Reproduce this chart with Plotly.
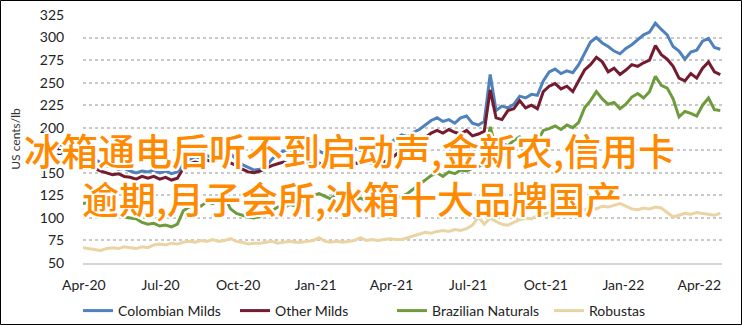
import pandas as pd
import plotly.graph_objects as go

# Weekly ICO group indicator prices, US cents/lb
dates = pd.date_range("2020-03-31", periods=109, freq="7D")

colombian_milds = [
    166, 168, 165, 161, 158, 156, 154, 155, 152, 150,
    152, 151, 153, 150, 152, 149, 151, 160, 165, 168,
    166, 169, 167, 170, 168, 171, 165, 159, 156, 153,
    154, 157, 165, 171, 174, 176, 173, 177, 175, 172,
    174, 171, 170, 172, 170, 174, 177, 175, 178, 176,
    180, 178, 182, 188, 192, 190, 195, 198, 203, 208,
    211, 207, 209, 205, 211, 213, 205, 203, 207, 259,
    219, 224, 222, 226, 235, 233, 237, 236, 252, 262,
    265, 260, 263, 261, 270, 282, 295, 300, 294, 290,
    285, 282, 288, 292, 298, 303, 306, 316, 309, 303,
    290, 285, 276, 284, 286, 296, 299, 289, 287,
]

other_milds = [
    157, 158, 155, 152, 150, 148, 149, 146, 145, 143,
    146, 144, 146, 143, 145, 142, 144, 155, 160, 162,
    160, 164, 162, 165, 163, 161, 158, 154, 151, 150,
    152, 155, 158, 160, 162, 160, 163, 161, 162, 159,
    161, 157, 158, 156, 159, 158, 161, 160, 162, 161,
    163, 162, 165, 170, 175, 178, 183, 187, 189, 194,
    197, 194, 198, 195, 193, 197, 191, 193, 196, 242,
    211, 209, 219, 221, 230, 222, 225, 221, 240, 246,
    249, 243, 246, 240, 252, 264, 270, 278, 273, 262,
    266, 259, 264, 270, 268, 272, 275, 291, 281, 276,
    268, 255, 252, 260, 255, 266, 273, 262, 259,
]

brazilian_naturals = [
    116, 117, 114, 108, 104, 102, 104, 101, 100, 99,
    95, 93, 94, 91, 92, 90, 93, 108, 112, 115,
    113, 118, 116, 121, 123, 110, 105, 103, 101, 100,
    102, 104, 108, 112, 111, 115, 113, 118, 121, 125,
    127, 124, 121, 127, 123, 125, 120, 122, 119, 121,
    118, 120, 119, 122, 124, 127, 132, 138, 142, 147,
    150, 146, 151, 149, 153, 152, 155, 157, 160, 201,
    178, 183, 180, 186, 190, 184, 188, 185, 197, 199,
    202, 198, 203, 200, 206, 222, 230, 240, 232, 226,
    228, 221, 226, 234, 238, 233, 240, 257, 247, 244,
    232, 212, 218, 216, 213, 225, 233, 220, 219,
]

robustas = [
    67, 66, 65, 64, 66, 67, 66, 68, 67, 66,
    68, 67, 70, 71, 70, 72, 71, 73, 74, 73,
    75, 74, 76, 74, 75, 77, 74, 73, 71, 72,
    72, 73, 74, 72, 73, 74, 73, 73, 74, 75,
    78, 74, 73, 74, 73, 74, 75, 78, 75, 76,
    75, 76, 77, 76, 76, 78, 80, 82, 84, 83,
    85, 86, 85, 87, 86, 88, 92, 101, 93, 100,
    96, 93, 92, 95, 98, 100, 99, 103, 104, 106,
    105, 107, 108, 106, 110, 109, 112, 110, 113, 112,
    114, 116, 113, 110, 109, 111, 110, 112, 111, 106,
    101, 103, 105, 104, 106, 105, 104, 103, 105,
]

series_names = ["Colombian Milds", "Other Milds", "Brazilian Naturals", "Robustas"]
series_values = [colombian_milds, other_milds, brazilian_naturals, robustas]
series_colors = ["#4F81BD", "#741B2F", "#6E9B3C", "#EAD4A4"]

tick_dates = ["2020-04-01", "2020-07-01", "2020-10-01", "2021-01-01", "2021-04-01",
              "2021-07-01", "2021-10-01", "2022-01-01", "2022-04-01"]
tick_labels = ["Apr-20", "Jul-20", "Oct-20", "Jan-21", "Apr-21",
               "Jul-21", "Oct-21", "Jan-22", "Apr-22"]

overlay_lines = ["冰箱通电后听不到启动声,金新农,信用卡", "逾期,月子会所,冰箱十大品牌国产"]

W, H = 742, 325
ML, MR, MT, MB = 83, 20, 15, 62
PW, PH = W - ML - MR, H - MT - MB


def px_x(px):
    return (px - ML) / PW


def px_y(py):
    return (H - MB - py) / PH


fig = go.Figure()
for name, vals, color in zip(series_names, series_values, series_colors):
    fig.add_trace(go.Scatter(
        x=dates, y=vals, name=name, mode="lines",
        line=dict(color=color, width=3),
    ))

tick_font = dict(family="Lato, 'Open Sans', sans-serif", size=14, color="#222222")

fig.update_layout(
    width=W, height=H,
    margin=dict(l=ML, r=MR, t=MT, b=MB, autoexpand=False),
    paper_bgcolor="white", plot_bgcolor="white",
    showlegend=True,
    legend=dict(
        orientation="h", xref="container", yref="container",
        x=78 / W, xanchor="left", y=1 - 311 / H, yanchor="middle",
        bgcolor="rgba(0,0,0,0)",
        font=dict(family="Lato, 'Open Sans', sans-serif", size=14, color="#222222"),
        itemwidth=30, tracegroupgap=0,
        entrywidth=112, entrywidthmode="pixels",
    ),
    xaxis=dict(
        type="date", automargin=False,
        range=["2020-03-31", "2022-04-28"],
        tickvals=tick_dates, ticktext=tick_labels,
        ticks="outside", ticklen=8, tickcolor="rgba(0,0,0,0)",
        tickfont=tick_font,
        showgrid=False, zeroline=False,
        showline=True, linecolor="#D4D4D4", linewidth=1.5,
    ),
    yaxis=dict(
        automargin=False,
        range=[50, 325], tickvals=list(range(50, 326, 25)),
        ticks="outside", ticklen=15, tickcolor="rgba(0,0,0,0)",
        tickfont=tick_font,
        showgrid=True, gridcolor="#C9C9C9", gridwidth=1.5, griddash="dot",
        zeroline=False, showline=False,
        title=dict(text="US cents/lb", standoff=16,
                   font=dict(family="Lato, 'Open Sans', sans-serif", size=12, color="#333333")),
    ),
)

# thin frame round the whole figure
fig.add_shape(
    type="rect", xref="paper", yref="paper",
    x0=px_x(0.5), x1=px_x(W - 0.5), y0=px_y(H - 0.5), y1=px_y(0.5),
    line=dict(color="black", width=1), fillcolor="rgba(0,0,0,0)", layer="above",
)

outline = ", ".join(f"{dx}px {dy}px 0 #ffffff" for dx, dy in
                    [(-2, 0), (2, 0), (0, -2), (0, 2), (-1, -1), (1, -1), (-1, 1), (1, 1),
                     (-2, -1), (2, -1), (-2, 1), (2, 1), (-1, -2), (1, -2), (-1, 2), (1, 2)])
overlay_pos = [(22, 150), (80, 198)]
for text, (lx, cy) in zip(overlay_lines, overlay_pos):
    fig.add_annotation(
        text=text, xref="paper", yref="paper",
        x=px_x(lx), y=px_y(cy), xanchor="left", yanchor="middle",
        showarrow=False,
        font=dict(family="'Noto Sans CJK SC', sans-serif", size=37, color="#FF8A00",
                  weight=500, shadow=outline),
    )

fig.write_html("out.html")
